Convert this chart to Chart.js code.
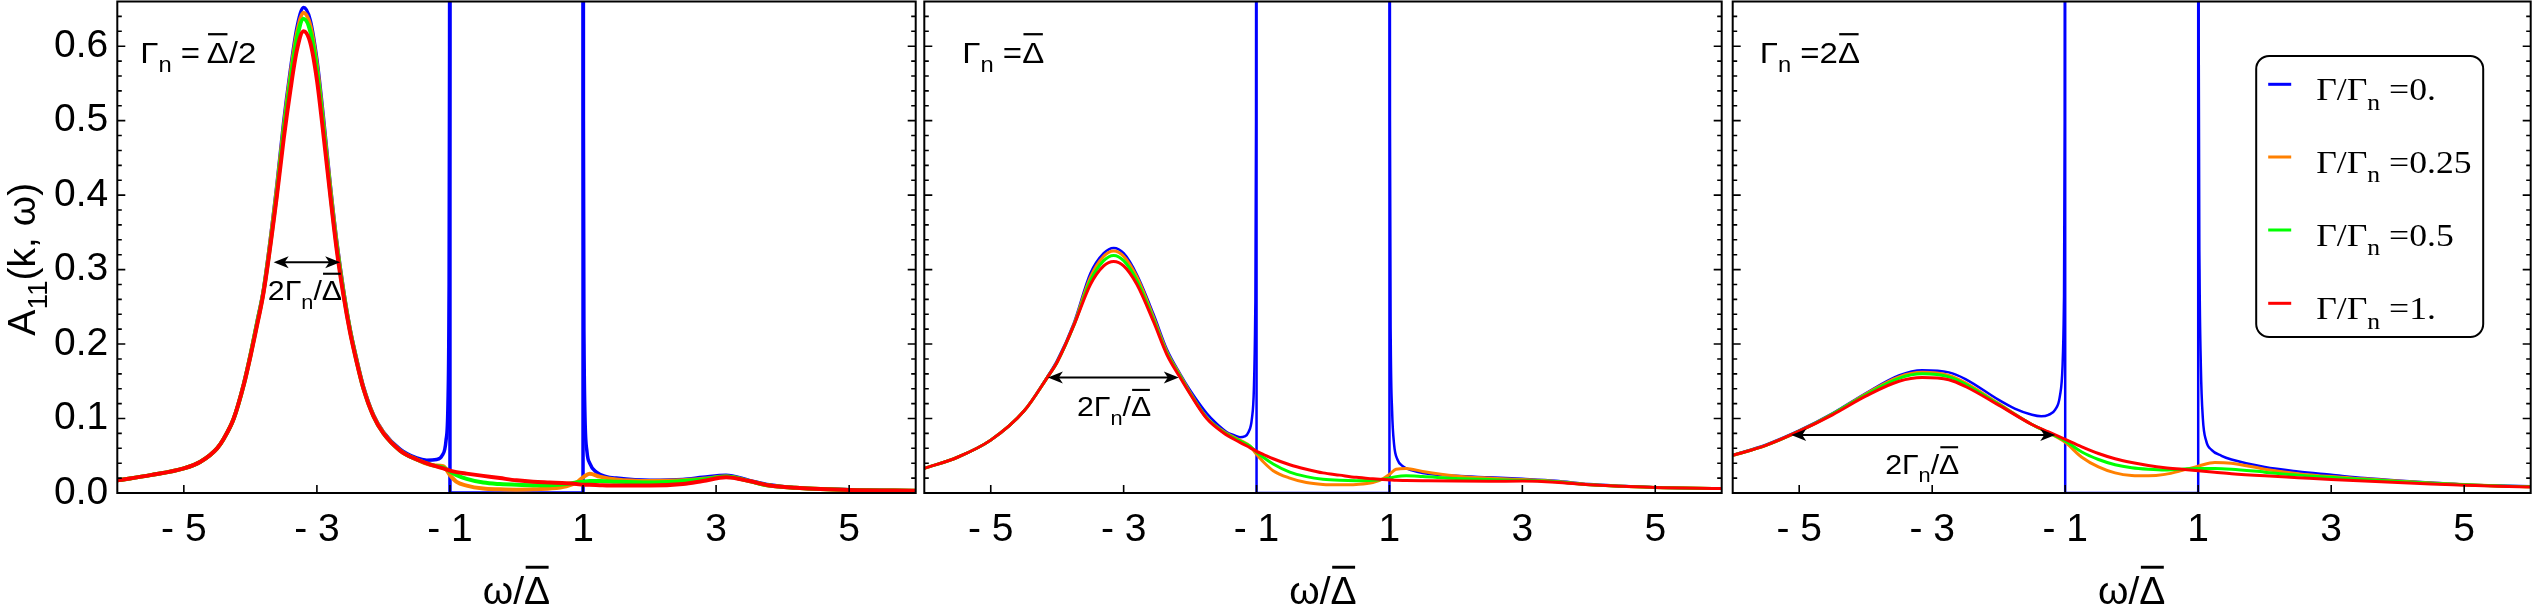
<!DOCTYPE html>
<html>
<head>
<script src="https://cdn.jsdelivr.net/npm/chart.js@4.4.0/dist/chart.umd.min.js"></script>
<style>
  body { margin: 0; background: #fff; }
  #wrap { position: relative; width: 2532px; height: 608px; overflow: hidden; background: #fff; }
  canvas { position: absolute; top: 0; }
</style>
</head>
<body>
<div id="wrap">
  <canvas id="p1" width="920" height="608" style="left:0px"></canvas>
  <canvas id="p2" width="806" height="608" style="left:920px"></canvas>
  <canvas id="p3" width="805" height="608" style="left:1727px"></canvas>
</div>
<script>
// ---- data ----
var xTickValues = [-5, -3, -1, 1, 3, 5];
var yTickValues = [0, 0.1, 0.2, 0.3, 0.4, 0.5, 0.6];
var legendValues = ['0.', '0.25', '0.5', '1.'];

// blue curve (Γ = 0) inside the gap: vertical edges at ±1, zero in between
var gapW = [-1, -1, 1, 1];
var gapA = [1.5, 0, 0, 1.5];

// panel A : Γn = Δ/2
var wA = [-6, -5.5, -5, -4.75, -4.5, -4.4, -4.25, -4.1, -4, -3.9, -3.8, -3.6, -3.5, -3.4, -3.3, -3.2, -3.1, -3.0, -2.9, -2.8, -2.7, -2.6, -2.5, -2.4, -2.3, -2.15, -2,
  -1.75, -1.5, -1.25, -1.1, -1, -0.9, -0.75, -0.5, -0.25, 0, 0.25, 0.5, 0.75, 0.9, 1, 1.1, 1.25, 1.5, 2, 2.5, 2.8, 3.15, 3.5, 3.8, 4.2, 5, 6];
var redA = [0.017, 0.024, 0.033, 0.042, 0.06, 0.073, 0.10, 0.145, 0.183, 0.225, 0.27, 0.40, 0.475, 0.54, 0.595, 0.62, 0.605, 0.555, 0.48, 0.40, 0.325, 0.265, 0.215, 0.175, 0.14, 0.103, 0.08,
  0.057, 0.045, 0.037, 0.033, 0.030, 0.028, 0.026, 0.023, 0.020, 0.017, 0.015, 0.014, 0.013, 0.012, 0.011, 0.011, 0.0105, 0.010, 0.010, 0.012, 0.016, 0.021, 0.016, 0.010, 0.007, 0.004, 0.003];
var orangeA = [0.017, 0.024, 0.033, 0.042, 0.06, 0.073, 0.10, 0.146, 0.185, 0.228, 0.273, 0.41, 0.49, 0.56, 0.617, 0.645, 0.628, 0.575, 0.495, 0.41, 0.333, 0.27, 0.218, 0.177, 0.141, 0.104, 0.081,
  0.057, 0.045, 0.037, 0.036, 0.024, 0.015, 0.010, 0.006, 0.005, 0.0045, 0.005, 0.006, 0.009, 0.014, 0.021, 0.026, 0.022, 0.018, 0.016, 0.017, 0.019, 0.022, 0.016, 0.010, 0.007, 0.004, 0.003];
var greenA = [0.017, 0.024, 0.033, 0.042, 0.06, 0.073, 0.10, 0.145, 0.184, 0.227, 0.272, 0.405, 0.485, 0.553, 0.61, 0.637, 0.62, 0.568, 0.49, 0.405, 0.33, 0.268, 0.217, 0.176, 0.14, 0.103, 0.08,
  0.057, 0.045, 0.037, 0.034, 0.029, 0.024, 0.019, 0.014, 0.012, 0.011, 0.0105, 0.0105, 0.012, 0.014, 0.015, 0.016, 0.016, 0.015, 0.014, 0.016, 0.018, 0.022, 0.016, 0.010, 0.007, 0.004, 0.003];
var blueLeftWA = [-6, -5.5, -5, -4.75, -4.5, -4.4, -4.25, -4.1, -4, -3.9, -3.8, -3.6, -3.5, -3.4, -3.3, -3.2, -3.1, -3.0, -2.9, -2.8, -2.7, -2.6, -2.5, -2.4, -2.3, -2.15, -2,
  -1.75, -1.5, -1.35, -1.2, -1.12, -1.06, -1.03, -1.015, -1.006, -1.002];
var blueLeftA = [0.017, 0.024, 0.033, 0.042, 0.06, 0.073, 0.10, 0.147, 0.186, 0.23, 0.275, 0.415, 0.498, 0.567, 0.625, 0.652, 0.635, 0.582, 0.503, 0.415, 0.337, 0.273, 0.22, 0.179, 0.143, 0.105, 0.082,
  0.059, 0.047, 0.044, 0.045, 0.05, 0.07, 0.12, 0.25, 0.6, 1.5];
var blueRightWA = [1.002, 1.006, 1.015, 1.03, 1.06, 1.1, 1.2, 1.35, 1.5, 2, 2.5, 2.8, 3.15, 3.5, 3.8, 4.2, 5, 6];
var blueRightA = [1.5, 0.5, 0.2, 0.1, 0.055, 0.04, 0.028, 0.022, 0.02, 0.017, 0.018, 0.021, 0.024, 0.017, 0.011, 0.007, 0.0045, 0.003];

// panel B : Γn = Δ
var wB = [-6, -5.5, -5, -4.5, -4.15, -4, -3.75, -3.5, -3.3, -3.15, -3, -2.8, -2.55, -2.35, -2.15, -2, -1.75, -1.5, -1.25, -1.1, -1, -0.9, -0.75, -0.5, -0.25, 0, 0.25, 0.5, 0.75, 0.9, 1, 1.1, 1.25, 1.5, 2, 2.5, 3, 3.5, 4, 4.5, 5, 6];
var redB = [0.033, 0.048, 0.071, 0.11, 0.155, 0.176, 0.225, 0.28, 0.305, 0.311, 0.305, 0.28, 0.23, 0.186, 0.155, 0.133, 0.10, 0.081, 0.068, 0.061, 0.056, 0.052, 0.046, 0.038, 0.032, 0.027, 0.024, 0.021, 0.019, 0.018, 0.0175, 0.017, 0.0168, 0.0165, 0.016, 0.0158, 0.016, 0.0145, 0.011, 0.009, 0.0073, 0.006];
var orangeB = [0.033, 0.048, 0.071, 0.11, 0.155, 0.176, 0.226, 0.29, 0.318, 0.325, 0.318, 0.29, 0.236, 0.19, 0.158, 0.135, 0.101, 0.083, 0.071, 0.063, 0.052, 0.042, 0.030, 0.020, 0.014, 0.0115, 0.011, 0.0115, 0.014, 0.019, 0.025, 0.032, 0.033, 0.029, 0.023, 0.020, 0.018, 0.0155, 0.0115, 0.009, 0.0073, 0.006];
var greenB = [0.033, 0.048, 0.071, 0.11, 0.155, 0.176, 0.225, 0.285, 0.312, 0.319, 0.312, 0.285, 0.233, 0.188, 0.157, 0.134, 0.101, 0.082, 0.070, 0.063, 0.055, 0.048, 0.039, 0.028, 0.022, 0.0185, 0.017, 0.0165, 0.017, 0.0185, 0.020, 0.022, 0.023, 0.022, 0.0195, 0.018, 0.017, 0.015, 0.011, 0.009, 0.0073, 0.006];
var blueLeftWB = [-6, -5.5, -5, -4.5, -4.15, -4, -3.75, -3.5, -3.3, -3.15, -3, -2.8, -2.55, -2.35, -2.15, -2, -1.75, -1.6, -1.45, -1.35, -1.25, -1.18, -1.12, -1.07, -1.04, -1.02, -1.008, -1.002];
var blueLeftB = [0.033, 0.048, 0.071, 0.11, 0.156, 0.178, 0.228, 0.295, 0.322, 0.329, 0.322, 0.293, 0.24, 0.193, 0.16, 0.138, 0.107, 0.093, 0.082, 0.078, 0.075, 0.076, 0.082, 0.1, 0.14, 0.24, 0.5, 1.5];
var blueRightWB = [1.002, 1.008, 1.02, 1.04, 1.07, 1.12, 1.2, 1.35, 1.5, 2, 2.5, 3, 3.5, 4, 4.5, 5, 6];
var blueRightB = [1.5, 0.5, 0.2, 0.11, 0.065, 0.045, 0.036, 0.03, 0.027, 0.023, 0.021, 0.019, 0.0165, 0.012, 0.0095, 0.0075, 0.006];

// panel C : Γn = 2Δ
var wC = [-6, -5.5, -5, -4.5, -4, -3.5, -3.15, -2.75, -2.5, -2, -1.5, -1.25, -1, -0.75, -0.5, -0.25, 0, 0.25, 0.5, 0.75, 1, 1.25, 1.5, 2, 2.5, 3, 3.5, 4, 4.5, 5, 5.5, 6];
var redC = [0.0505, 0.064, 0.083, 0.105, 0.13, 0.15, 0.155, 0.152, 0.143, 0.118, 0.092, 0.082, 0.072, 0.062, 0.053, 0.046, 0.041, 0.037, 0.034, 0.032, 0.030, 0.028, 0.026, 0.023, 0.0205, 0.018, 0.016, 0.014, 0.012, 0.0105, 0.009, 0.008];
var orangeC = [0.0505, 0.064, 0.083, 0.106, 0.133, 0.156, 0.162, 0.158, 0.148, 0.12, 0.092, 0.081, 0.068, 0.048, 0.035, 0.027, 0.0235, 0.023, 0.025, 0.030, 0.036, 0.041, 0.040, 0.032, 0.026, 0.022, 0.019, 0.016, 0.0135, 0.0115, 0.0095, 0.0085];
var greenC = [0.0505, 0.064, 0.083, 0.106, 0.132, 0.154, 0.16, 0.156, 0.146, 0.119, 0.092, 0.081, 0.070, 0.055, 0.045, 0.038, 0.034, 0.032, 0.031, 0.032, 0.033, 0.033, 0.032, 0.028, 0.024, 0.021, 0.018, 0.0155, 0.013, 0.011, 0.0095, 0.0085];
var blueLeftWC = [-6, -5.5, -5, -4.5, -4, -3.5, -3.15, -2.75, -2.5, -2, -1.75, -1.5, -1.36, -1.25, -1.15, -1.08, -1.04, -1.02, -1.008, -1.002];
var blueLeftC = [0.051, 0.065, 0.084, 0.107, 0.134, 0.158, 0.165, 0.162, 0.153, 0.125, 0.113, 0.105, 0.103, 0.105, 0.112, 0.13, 0.17, 0.25, 0.5, 1.5];
var blueRightWC = [1.002, 1.008, 1.02, 1.04, 1.07, 1.12, 1.2, 1.35, 1.5, 2, 2.5, 3, 3.5, 4, 4.5, 5, 5.5, 6];
var blueRightC = [1.5, 0.6, 0.3, 0.17, 0.1, 0.07, 0.058, 0.05, 0.045, 0.035, 0.029, 0.0245, 0.02, 0.0167, 0.014, 0.0115, 0.010, 0.0089];

// width markers 2Γn/Δ (from, to, height) and label spot, in axis units
var widthA = [-3.65, -2.65, 0.31, -3.18, 0.259];
var widthB = [-4.14, -2.17, 0.155, -3.145, 0.103];
var widthC = [-5.12, -1.15, 0.078, -3.15, 0.026];

var BLUE = '#0000ff', ORANGE = '#ff8000', GREEN = '#00ff00', RED = '#ff0000';
var SANS = '"Liberation Sans", Arial, sans-serif';
var SERIF = '"Liberation Serif", "Times New Roman", serif';

function pts(xs, ys) {
  return xs.map(function (x, i) { return { x: x, y: ys[i] }; });
}

// draws a run of text pieces; kind '' normal, 'sub' subscript, 'bar' overbar
function drawRich(ctx, parts, x, y, size, family, align, sx) {
  sx = sx || 1;
  ctx.save();
  ctx.translate(x, y);
  ctx.scale(sx, 1);
  var items = [], total = 0;
  parts.forEach(function (p) {
    var fs = p[1] === 'sub' ? size * 0.72 : size;
    ctx.font = fs + 'px ' + family;
    var w = ctx.measureText(p[0]).width;
    items.push({ t: p[0], k: p[1], fs: fs, w: w });
    total += w;
  });
  var cx = align === 'center' ? -total / 2 : 0;
  ctx.textAlign = 'left';
  ctx.textBaseline = 'alphabetic';
  items.forEach(function (it) {
    ctx.font = it.fs + 'px ' + family;
    var dy = it.k === 'sub' ? size * 0.3 : 0;
    ctx.fillText(it.t, cx, dy);
    if (it.k === 'bar') {
      ctx.fillRect(cx + it.w * 0.06, -size * 0.98, it.w * 0.88, Math.max(2, size * 0.075));
    }
    cx += it.w;
  });
  ctx.restore();
}

function drawArrow(ctx, x1, x2, y) {
  var L = 15, H = 6;
  ctx.lineWidth = 2;
  ctx.beginPath(); ctx.moveTo(x1 + 4, y); ctx.lineTo(x2 - 4, y); ctx.stroke();
  ctx.beginPath(); ctx.moveTo(x1, y); ctx.lineTo(x1 + L, y - H); ctx.lineTo(x1 + L - 4, y); ctx.lineTo(x1 + L, y + H); ctx.closePath(); ctx.fill();
  ctx.beginPath(); ctx.moveTo(x2, y); ctx.lineTo(x2 - L, y - H); ctx.lineTo(x2 - L + 4, y); ctx.lineTo(x2 - L, y + H); ctx.closePath(); ctx.fill();
}

function roundBox(ctx, x, y, w, h, r) {
  ctx.beginPath();
  ctx.moveTo(x + r, y);
  ctx.arcTo(x + w, y, x + w, y + h, r);
  ctx.arcTo(x + w, y + h, x, y + h, r);
  ctx.arcTo(x, y + h, x, y, r);
  ctx.arcTo(x, y, x + w, y, r);
  ctx.closePath();
}

function decorate(chart, p) {
  var ctx = chart.ctx, a = chart.chartArea, xs = chart.scales.x, ys = chart.scales.y;
  ctx.save();
  ctx.fillStyle = '#000';
  ctx.strokeStyle = '#000';

  // frame
  ctx.lineWidth = 2;
  ctx.strokeRect(a.left, a.top, a.right - a.left, a.bottom - a.top);

  // inward ticks
  ctx.lineWidth = 1.6;
  ctx.beginPath();
  xTickValues.forEach(function (v) {
    var px = xs.getPixelForValue(v);
    ctx.moveTo(px, a.bottom); ctx.lineTo(px, a.bottom - 8);
  });
  for (var k = 1; k <= 32; k++) {
    var py = ys.getPixelForValue(k * 0.02);
    var len = (k % 5 === 0) ? 8 : 4.5;
    ctx.moveTo(a.left, py); ctx.lineTo(a.left + len, py);
    ctx.moveTo(a.right, py); ctx.lineTo(a.right - len, py);
  }
  ctx.stroke();

  // panel tag
  drawRich(ctx, p.tag, a.left + p.tagDx, a.top + 61, 30, SANS, 'left', 1.1);

  // width marker
  var m = p.mark;
  drawArrow(ctx, xs.getPixelForValue(m[0]), xs.getPixelForValue(m[1]), ys.getPixelForValue(m[2]));
  drawRich(ctx, [['2', ''], ['Γ', ''], ['n', 'sub'], ['/', ''], ['Δ', 'bar']],
    xs.getPixelForValue(m[3]), ys.getPixelForValue(m[4]), 28, SANS, 'center', 1.08);

  // axis titles
  drawRich(ctx, [['ω/', ''], ['Δ', 'bar']], (a.left + a.right) / 2, 604, 39, SANS, 'center');
  if (p.yTitle) {
    ctx.save();
    ctx.translate(35, (a.top + a.bottom) / 2 + 12);
    ctx.rotate(-Math.PI / 2);
    drawRich(ctx, [['A', ''], ['11', 'sub'], ['(k, ω)', '']], 0, 0, 39, SANS, 'center');
    ctx.restore();
  }

  // legend
  if (p.legend) {
    var bx = a.left + 523.5, by = 56, bw = 227, bh = 281;
    ctx.fillStyle = '#fff';
    roundBox(ctx, bx, by, bw, bh, 13);
    ctx.fill();
    ctx.lineWidth = 2;
    ctx.stroke();
    var cols = [BLUE, ORANGE, GREEN, RED];
    var rows = [84.3, 157, 230, 303.3];
    legendValues.forEach(function (lab, i) {
      ctx.fillStyle = cols[i];
      ctx.fillRect(bx + 12, rows[i] - 1.5, 23, 3);
      ctx.fillStyle = '#000';
      drawRich(ctx, [['Γ/Γ', ''], ['n', 'sub'], [' =' + lab, '']], bx + 60, rows[i] + 16, 31, SERIF, 'left', 1.15);
    });
  }
  ctx.restore();
}

function line(label, xs, ys, color, width, order, straight) {
  return {
    label: label,
    data: pts(xs, ys),
    borderColor: color,
    backgroundColor: color,
    borderWidth: width,
    pointRadius: 0,
    fill: false,
    order: order,
    cubicInterpolationMode: straight ? 'default' : 'monotone',
    tension: 0
  };
}

function makePanel(id, p) {
  var lw = p.lw;
  var datasets = [
    line('Γ/Γn = 1.', p.w, p.red, RED, lw, 0),
    line('Γ/Γn = 0.5', p.w, p.green, GREEN, lw, 1),
    line('Γ/Γn = 0.25', p.w, p.orange, ORANGE, lw, 2),
    line('Γ/Γn = 0.', p.blW1, p.bl1, BLUE, p.blw, 3),
    line('Γ/Γn = 0. (gap)', gapW, gapA, BLUE, p.blw, 3, true),
    line('Γ/Γn = 0. (right)', p.blW2, p.bl2, BLUE, p.blw, 3)
  ];
  new Chart(document.getElementById(id), {
    type: 'line',
    data: { datasets: datasets },
    options: {
      responsive: false,
      animation: false,
      layout: { padding: { left: p.padL, right: p.padR, top: 1.5, bottom: 0 } },
      plugins: { legend: { display: false }, tooltip: { enabled: false } },
      scales: {
        x: {
          type: 'linear', min: -6, max: 6,
          afterBuildTicks: function (s) { s.ticks = xTickValues.map(function (v) { return { value: v }; }); },
          afterFit: function (s) { s.height = 115; s.paddingLeft = 0; s.paddingRight = 0; },
          grid: { display: false, drawTicks: false },
          border: { display: false },
          ticks: {
            autoSkip: false, maxRotation: 0, padding: 14, color: '#000',
            font: { family: SANS, size: 39 },
            callback: function (v) { return v < 0 ? '- ' + (-v) : String(v); }
          }
        },
        y: {
          type: 'linear', min: 0, max: 0.66,
          afterBuildTicks: function (s) { s.ticks = yTickValues.map(function (v) { return { value: v }; }); },
          afterFit: function (s) { s.width = p.yw; s.paddingTop = 0; s.paddingBottom = 0; },
          grid: { display: false, drawTicks: false },
          border: { display: false },
          ticks: {
            display: p.yTitle, padding: 9, color: '#000',
            font: { family: SANS, size: 39 },
            callback: function (v) { return v.toFixed(1); }
          }
        }
      }
    },
    plugins: [{ id: 'decor', afterDraw: function (chart) { decorate(chart, p); } }]
  });
}

makePanel('p1', {
  w: wA, red: redA, green: greenA, orange: orangeA,
  blW1: blueLeftWA, bl1: blueLeftA, blW2: blueRightWA, bl2: blueRightA,
  lw: 4, blw: 3.5, yw: 117.3, padL: 0, padR: 4.3, yTitle: true, legend: false,
  tag: [['Γ', ''], ['n', 'sub'], [' =\u2009', ''], ['Δ', 'bar'], ['/2', '']], tagDx: 23,
  mark: widthA
});
makePanel('p2', {
  w: wB, red: redB, green: greenB, orange: orangeB,
  blW1: blueLeftWB, bl1: blueLeftB, blW2: blueRightWB, bl2: blueRightB,
  lw: 3, blw: 2.5, yw: 0, padL: 4.3, padR: 4.3, yTitle: false, legend: false,
  tag: [['Γ', ''], ['n', 'sub'], [' =', ''], ['Δ', 'bar']], tagDx: 38,
  mark: widthB
});
makePanel('p3', {
  w: wC, red: redC, green: greenC, orange: orangeC,
  blW1: blueLeftWC, bl1: blueLeftC, blW2: blueRightWC, bl2: blueRightC,
  lw: 3, blw: 2.5, yw: 0, padL: 5.7, padR: 1.3, yTitle: false, legend: true,
  tag: [['Γ', ''], ['n', 'sub'], [' =2', ''], ['Δ', 'bar']], tagDx: 27,
  mark: widthC
});
</script>
</body>
</html>
